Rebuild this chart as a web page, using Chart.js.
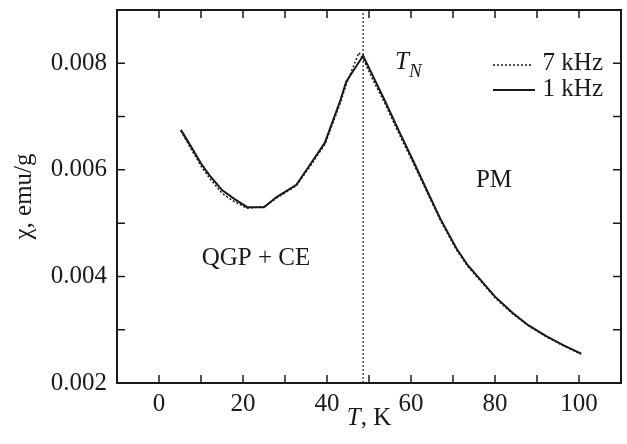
<!DOCTYPE html>
<html>
<head>
<meta charset="utf-8">
<script src="https://cdn.jsdelivr.net/npm/chart.js@4.4.1/dist/chart.umd.min.js"></script>
<style>
  html, body { margin: 0; padding: 0; background: #fff; }
</style>
</head>
<body>
<canvas id="chi" width="627" height="444"></canvas>
<script>
/* ─── Data ───────────────────────────────────────────────── */
const T_1K   = [5.2, 7, 10, 12, 15, 18, 21, 25, 28, 32.7, 36, 39.5, 43.2, 44.6, 48.6,
                51, 53.7, 57, 60.4, 64, 67, 70.8, 73.5, 76.4, 80, 84.3, 88, 92.2, 96, 100.5];
const CHI_1K = [0.00675, 0.00652, 0.00612, 0.00590, 0.00562, 0.00545, 0.00530, 0.00530, 0.00549, 0.00572,
                0.00610, 0.00651, 0.00731, 0.00766, 0.00814,
                0.00775, 0.00731, 0.00675, 0.00619, 0.00558, 0.00508, 0.00453, 0.00421, 0.00395,
                0.00362, 0.00331, 0.00308, 0.00288, 0.00272, 0.00255];

const T_7K   = [5.2, 7, 10, 12, 15, 18, 21, 25, 28, 32.7, 36, 39.5, 43.2, 44.6, 47.6, 48.6,
                51, 53.7, 57, 60.4, 64, 67, 70.8, 73.5, 76.4, 80, 84.3, 88, 92.2, 96, 100.5];
const CHI_7K = [0.00673, 0.00648, 0.00607, 0.00585, 0.00556, 0.00540, 0.00528, 0.00531, 0.00547, 0.00570,
                0.00607, 0.00648, 0.00726, 0.00761, 0.00820, 0.00808,
                0.00768, 0.00726, 0.00670, 0.00615, 0.00555, 0.00505, 0.00450, 0.00419, 0.00393,
                0.00360, 0.00329, 0.00307, 0.00287, 0.00271, 0.00254];

const T_N      = 48.6;
const X_LABELS = [0, 20, 40, 60, 80, 100];
const Y_LABELS = [0.002, 0.004, 0.006, 0.008];

/* ─── Style ──────────────────────────────────────────────── */
const SERIF = '"Liberation Serif", "DejaVu Serif", serif';
const INK   = '#1a1a1a';
const toXY  = (xs, ys) => xs.map((x, i) => ({ x, y: ys[i] }));

/* ─── Frame, inward ticks and annotations ────────────────── */
const framePlugin = {
  id: 'frame',
  afterDraw(chart) {
    const { ctx, chartArea: a, scales: { x, y } } = chart;
    const TL = 8;
    ctx.save();
    ctx.strokeStyle = INK;
    ctx.lineWidth = 1.5;
    ctx.beginPath();
    x.ticks.forEach(t => {
      const px = x.getPixelForValue(t.value);
      if (px <= a.left + 1 || px >= a.right - 1) return;
      ctx.moveTo(px, a.bottom); ctx.lineTo(px, a.bottom - TL);
      ctx.moveTo(px, a.top);    ctx.lineTo(px, a.top + TL);
    });
    y.ticks.forEach(t => {
      const py = y.getPixelForValue(t.value);
      if (py <= a.top + 1 || py >= a.bottom - 1) return;
      ctx.moveTo(a.left, py);  ctx.lineTo(a.left + TL, py);
      ctx.moveTo(a.right, py); ctx.lineTo(a.right - TL, py);
    });
    ctx.stroke();
    ctx.lineWidth = 2;
    ctx.strokeRect(a.left, a.top, a.right - a.left, a.bottom - a.top);

    ctx.fillStyle = INK;
    ctx.textBaseline = 'middle';

    // x title: "T, K" with italic T
    const rest = ', K';
    ctx.font = `italic 25px ${SERIF}`;
    const wT = ctx.measureText('T').width;
    ctx.font = `25px ${SERIF}`;
    const wR = ctx.measureText(rest).width;
    const sx = (a.left + a.right) / 2 - (wT + wR) / 2;
    ctx.textAlign = 'left';
    ctx.font = `italic 25px ${SERIF}`;
    ctx.fillText('T', sx, 418);
    ctx.font = `25px ${SERIF}`;
    ctx.fillText(rest, sx + wT, 418);

    // T_N label
    ctx.font = `italic 25px ${SERIF}`;
    ctx.fillText('T', 395, 62);
    ctx.font = `italic 19px ${SERIF}`;
    ctx.fillText('N', 409, 72);

    // region labels
    ctx.font = `25px ${SERIF}`;
    ctx.textAlign = 'center';
    ctx.fillText('PM', 494, 180);
    ctx.fillText('QGP + CE', 256, 258);

    // legend
    ctx.textAlign = 'right';
    ctx.fillText('7 kHz', 603, 63);
    ctx.fillText('1 kHz', 603, 89);
    ctx.beginPath();
    ctx.lineWidth = 1.5;
    ctx.setLineDash([2, 2]);
    ctx.moveTo(493, 65); ctx.lineTo(531, 65);
    ctx.stroke();
    ctx.setLineDash([]);
    ctx.beginPath();
    ctx.lineWidth = 2;
    ctx.moveTo(493, 90); ctx.lineTo(535, 90);
    ctx.stroke();
    ctx.restore();
  },
};

/* ─── Chart ──────────────────────────────────────────────── */
new Chart(document.getElementById('chi'), {
  type: 'scatter',
  data: {
    datasets: [
      {
        label: 'T_N',
        data: [{ x: T_N, y: 0.002 }, { x: T_N, y: 0.009 }],
        showLine: true,
        borderColor: INK,
        borderWidth: 1.2,
        borderDash: [2, 2],
        pointRadius: 0,
      },
      {
        label: '7 kHz',
        data: toXY(T_7K, CHI_7K),
        showLine: true,
        borderColor: INK,
        borderWidth: 1.5,
        borderDash: [2, 2],
        pointRadius: 0,
      },
      {
        label: '1 kHz',
        data: toXY(T_1K, CHI_1K),
        showLine: true,
        borderColor: INK,
        borderWidth: 2,
        pointRadius: 0,
      },
    ],
  },
  options: {
    responsive: false,
    animation: false,
    devicePixelRatio: 1,
    layout: { padding: { top: 10, right: 6, left: 0, bottom: 0 } },
    plugins: { legend: { display: false }, tooltip: { enabled: false } },
    scales: {
      x: {
        type: 'linear',
        min: -10, max: 110,
        grid:   { display: false, drawTicks: false },
        border: { display: false },
        ticks: {
          stepSize: 10,
          padding: 6,
          color: INK,
          font: { family: SERIF, size: 25 },
          maxRotation: 0,
          autoSkip: false,
          callback: v => (X_LABELS.includes(v) ? String(v) : ''),
        },
        afterFit: s => {
          s.height = 61;
          s.paddingLeft = 0; s.paddingRight = 0;
        },
      },
      y: {
        type: 'linear',
        min: 0.002, max: 0.009,
        grid:   { display: false, drawTicks: false },
        border: { display: false },
        ticks: {
          stepSize: 0.001,
          padding: 10,
          color: INK,
          font: { family: SERIF, size: 25 },
          autoSkip: false,
          callback: v => (Y_LABELS.some(l => Math.abs(l - v) < 1e-9) ? v.toFixed(3) : ''),
        },
        title: {
          display: true,
          text: 'χ, emu/g',
          color: INK,
          font: { family: SERIF, size: 25 },
          padding: { top: 9, bottom: 0 },
        },
        afterFit: s => {
          s.width = 117;
          s.paddingTop = 0; s.paddingBottom = 0;
        },
      },
    },
  },
  plugins: [framePlugin],
});
</script>
</body>
</html>
